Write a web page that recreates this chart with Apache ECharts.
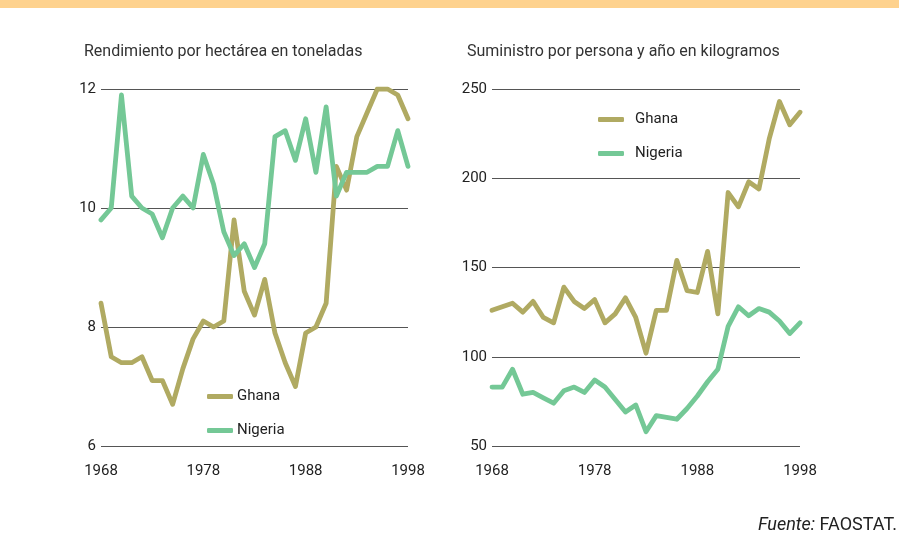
<!DOCTYPE html>
<html>
<head>
<meta charset="utf-8">
<script src="https://cdn.jsdelivr.net/npm/echarts@6/dist/echarts.min.js"></script>
<style>
  html, body { margin: 0; padding: 0; background: #fff; }
  #chart { width: 899px; height: 541px; }
</style>
</head>
<body>
<div id="chart"></div>
<script>
// Years shared by both panels
const years = [1968, 1969, 1970, 1971, 1972, 1973, 1974, 1975, 1976, 1977,
  1978, 1979, 1980, 1981, 1982, 1983, 1984, 1985, 1986, 1987,
  1988, 1989, 1990, 1991, 1992, 1993, 1994, 1995, 1996, 1997, 1998];

// Yield per hectare (tonnes)
const yieldGhana = [8.4, 7.5, 7.4, 7.4, 7.5, 7.1, 7.1, 6.7, 7.3, 7.8,
  8.1, 8.0, 8.1, 9.8, 8.6, 8.2, 8.8, 7.9, 7.4, 7.0,
  7.9, 8.0, 8.4, 10.7, 10.3, 11.2, 11.6, 12.0, 12.0, 11.9, 11.5];
const yieldNigeria = [9.8, 10.0, 11.9, 10.2, 10.0, 9.9, 9.5, 10.0, 10.2, 10.0,
  10.9, 10.4, 9.6, 9.2, 9.4, 9.0, 9.4, 11.2, 11.3, 10.8,
  11.5, 10.6, 11.7, 10.2, 10.6, 10.6, 10.6, 10.7, 10.7, 11.3, 10.7];

// Supply per person per year (kg)
const supplyGhana = [126, 128, 130, 125, 131, 122, 119, 139, 131, 127,
  132, 119, 124, 133, 122, 102, 126, 126, 154, 137,
  136, 159, 124, 192, 184, 198, 194, 222, 243, 230, 237];
const supplyNigeria = [83, 83, 93, 79, 80, 77, 74, 81, 83, 80,
  87, 83, 76, 69, 73, 58, 67, 66, 65, 71,
  78, 86, 93, 117, 128, 123, 127, 125, 120, 113, 119];

const leftTitle = 'Rendimiento por hectárea en toneladas';
const rightTitle = 'Suministro por persona y año en kilogramos';
const seriesNames = ['Ghana', 'Nigeria'];
const xTicks = [1968, 1978, 1988, 1998];

const colGhana = '#b0aa62';
const colNigeria = '#74c896';
const fontFam = 'Roboto, "Noto Sans", sans-serif';

const pairs = (vals) => years.map((y, i) => [y, vals[i]]);

function xAxisFor(gridIndex) {
  return {
    type: 'value', gridIndex, min: 1968, max: 1998, interval: 10,
    axisLine: { show: false }, axisTick: { show: false }, splitLine: { show: false },
    axisLabel: { color: '#222', fontSize: 15, fontFamily: fontFam, margin: 18,
      formatter: v => xTicks.includes(v) ? String(v) : '' }
  };
}
function yAxisFor(gridIndex, min, max, interval) {
  return {
    type: 'value', gridIndex, min, max, interval,
    axisLine: { show: false }, axisTick: { show: false },
    splitLine: { lineStyle: { color: '#555', width: 1 } },
    axisLabel: { color: '#222', fontSize: 15, fontFamily: fontFam, margin: 5 }
  };
}
function lineSeries(name, color, data, idx) {
  return {
    name, type: 'line', xAxisIndex: idx, yAxisIndex: idx, data,
    symbol: 'none', silent: true, animation: false,
    lineStyle: { color, width: 4.8, cap: 'round', join: 'round' },
    itemStyle: { color }
  };
}
function legendAt(left, top, textGap) {
  return {
    data: seriesNames, orient: 'vertical', left, top, padding: 0,
    icon: 'roundRect', itemWidth: 26, itemHeight: 5, itemGap: 19,
    selectedMode: false,
    textStyle: { color: '#222', fontSize: 15, fontFamily: fontFam, padding: [0, 0, 0, textGap] }
  };
}

const chart = echarts.init(document.getElementById('chart'), null, { renderer: 'canvas' });
chart.setOption({
  animation: false,
  backgroundColor: '#fff',
  graphic: [
    { type: 'rect', shape: { x: 0, y: 0, width: 899, height: 8 }, style: { fill: '#fed28e' } },
    { type: 'text', left: 84, top: 44, style: { text: leftTitle, fill: '#333', font: '16px ' + fontFam } },
    { type: 'text', left: 467, top: 44, style: { text: rightTitle, fill: '#333', font: '16px ' + fontFam } },
    { type: 'text', right: 2, top: 516, style: {
        rich: {
          i: { fontStyle: 'italic', fontSize: 18, fontFamily: fontFam, fill: '#222' },
          n: { fontSize: 18, fontFamily: fontFam, fill: '#222' }
        },
        text: '{i|Fuente:}{n| FAOSTAT.}'
      } }
  ],
  grid: [
    { left: 101, right: 491, top: 89, bottom: 95 },
    { left: 492, right: 99, top: 89, bottom: 95 }
  ],
  xAxis: [xAxisFor(0), xAxisFor(1)],
  yAxis: [yAxisFor(0, 6, 12, 2), yAxisFor(1, 50, 250, 50)],
  legend: [legendAt(207, 389, -1), legendAt(598, 112, 6)],
  series: [
    lineSeries('Ghana', colGhana, pairs(yieldGhana), 0),
    lineSeries('Nigeria', colNigeria, pairs(yieldNigeria), 0),
    lineSeries('Ghana', colGhana, pairs(supplyGhana), 1),
    lineSeries('Nigeria', colNigeria, pairs(supplyNigeria), 1)
  ]
});
</script>
</body>
</html>
